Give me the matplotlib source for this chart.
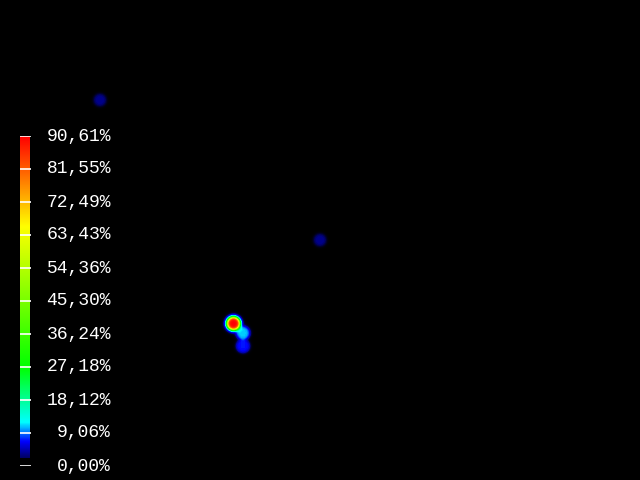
import numpy as np
from matplotlib import pyplot as plt
from matplotlib.colors import LinearSegmentedColormap, Normalize

# hot spots: pixel position and peak value (%)
spot_x = [100, 320, 233.5, 243, 243]
spot_y = [100, 240, 323.5, 333, 346]
spot_val = [1.5, 1.5, 90.6075, 9.0, 5.0]

vmax = 90.6075
tick_vals = np.linspace(0, vmax, 11)
tick_labels = [("%.2f%%" % t).replace(".", ",") for t in tick_vals]

cmap = LinearSegmentedColormap.from_list("heat", [
    (0.00, (0.0, 0.0, 0.40)),
    (0.05, (0.0, 0.0, 1.0)),
    (0.11, (0.0, 1.0, 1.0)),
    (0.28, (0.0, 1.0, 0.0)),
    (0.72, (1.0, 1.0, 0.0)),
    (1.00, (1.0, 0.0, 0.0)),
])
norm = Normalize(0, vmax)

W, H = 640, 480
xx, yy = np.meshgrid(np.arange(W) + 0.5, np.arange(H) + 0.5)
field = np.zeros((H, W))
r0, w = 6.4, 0.9   # soft disc kernel
for x, y, v in zip(spot_x, spot_y, spot_val):
    r = np.hypot(xx - x, yy - y)
    field += v / (1 + np.exp((r - r0) / w))

rgba = cmap(norm(np.clip(field, 0, vmax)))
rgba[..., 3] = np.clip(field / 1.6, 0, 1)

fig = plt.figure(figsize=(6.4, 4.8), dpi=100, facecolor="black")
ax = fig.add_axes([0, 0, 1, 1], facecolor="black")
ax.imshow(rgba, extent=(0, W, H, 0), interpolation="bilinear")
ax.set_xlim(0, W)
ax.set_ylim(H, 0)
ax.axis("off")

# colour bar, pixel layout: x 20..31, ticks from y=136 (max) to y=466 (0)
cax = fig.add_axes([20 / W, 1 - 466 / H, 11 / W, 330 / H], facecolor="black")
bar_bottom = vmax * 8 / 330
grad = np.linspace(0, 1, 256)[:, None]
cax.imshow(grad, cmap=cmap, aspect="auto", origin="lower",
           extent=(0, 10 / 11, bar_bottom, vmax))
cax.hlines(tick_vals, 0, 1, colors="white", lw=1.2)
cax.set_xlim(0, 1)
cax.set_ylim(0, vmax)
cax.axis("off")

for t, lab in zip(tick_vals, tick_labels):
    ypix = 466 - t / vmax * 330
    fig.text(111 / W, 1 - ypix / H, lab, color="white", ha="right", va="center",
             family="Liberation Mono", fontsize=13)

fig.savefig("out.png", dpi=100, facecolor="black")
